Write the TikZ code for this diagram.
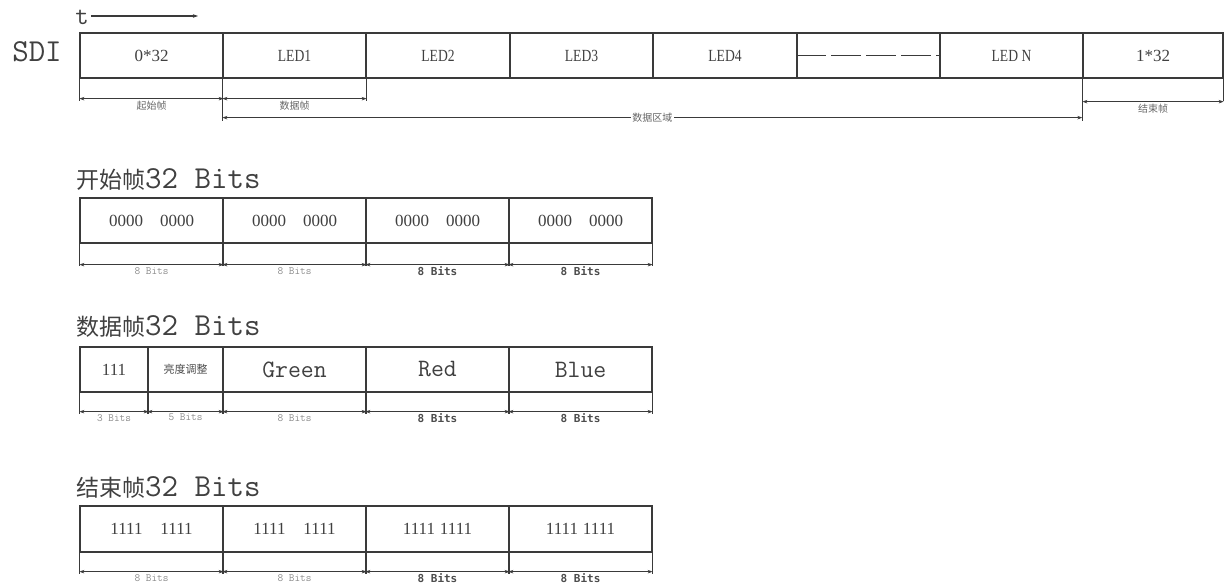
\documentclass[tikz,border=0pt]{standalone}
\usepackage{fontspec}
\setmainfont{Liberation Serif}
\newfontfamily\cjk{Noto Sans CJK SC}
\newfontfamily\narrowf[FakeStretch=0.8]{Liberation Serif}
\newfontfamily\monob{DejaVu Sans Mono}
\usetikzlibrary{arrows.meta,calc}
\definecolor{linec}{HTML}{3A3A3A}
\definecolor{txtc}{HTML}{404040}
\tikzset{
  cell/.style={draw=linec, line width=1.3pt, minimum height=45pt, inner sep=0pt, text=txtc,
               font=\fontsize{17}{17}\selectfont},
  ledtext/.style={font=\narrowf\fontsize{17}{17}\selectfont},
  colour/.style={font=\ttfamily\fontsize{25}{25}\selectfont},
  ext/.style={draw=linec, line width=1.3pt},
  dim/.style={draw=linec, line width=1.1pt, {Stealth[length=5pt,width=3.5pt]}-{Stealth[length=5pt,width=3.5pt]}},
  faint/.style={font=\ttfamily\fontsize{11}{11}\selectfont, text=black!45, inner sep=2pt},
  boldlab/.style={font=\monob\bfseries\fontsize{11}{11}\selectfont, text=black!70, inner sep=1.5pt},
  cjklab/.style={font=\cjk\fontsize{10}{10}\selectfont, text=black!60, inner sep=1.5pt},
  titletext/.style={anchor=west, inner sep=0pt, text=txtc},
}
\newcommand{\ttl}[1]{{\cjk\fontsize{23}{23}\selectfont #1}{\ttfamily\fontsize{32}{32}\selectfont 32 Bits}}
\begin{document}
\begin{tikzpicture}[x=1pt,y=-1pt]
\useasboundingbox (0,0) rectangle (1225,583);

% ---------- top row ----------
\node[inner sep=0pt, text=txtc, font=\ttfamily\fontsize{26}{26}\selectfont] (t) at (82,17) {t};
\coordinate (tend) at (198,16);
\draw[ext, line width=1.2pt, shorten <=2pt, -{Stealth[length=5pt,width=3.5pt]}] (t.east |- tend) -- (tend);
\node[inner sep=0pt, text=txtc, font=\ttfamily\fontsize{32}{32}\selectfont] (sdi) at (37,52) {SDI};

\node[cell, minimum width=143pt] (s1) at (151.5,55.5) {0*32};
\node[cell, ledtext, minimum width=143pt] (s2) at (294.5,55.5) {LED1};
\node[cell, ledtext, minimum width=144pt] (s3) at (438,55.5) {LED2};
\node[cell, ledtext, minimum width=143pt] (s4) at (581.5,55.5) {LED3};
\node[cell, ledtext, minimum width=144pt] (s5) at (725,55.5) {LED4};
\node[cell, minimum width=143pt] (s6) at (868.5,55.5) {};
\node[cell, ledtext, minimum width=143pt] (s7) at (1011.5,55.5) {LED N};
\node[cell, minimum width=140pt] (s9) at (1153,55.5) {1*32};
\draw[ext, dash pattern=on 30pt off 5pt] (s6.west) -- (s6.east);

\draw[ext] (s1.south west) -- ++(0,22);
\draw[ext] (s2.south west) -- ++(0,42);
\draw[ext] (s2.south east) -- ++(0,22);
\draw[ext] (s9.south west) -- ++(0,42);
\draw[ext] (s9.south east) -- ++(0,22);

\draw[dim] ($(s1.south west)+(0,20)$) -- ($(s1.south east)+(0,20)$) node[midway, below, cjklab] {起始帧};
\draw[dim] ($(s2.south west)+(0,20)$) -- ($(s2.south east)+(0,20)$) node[midway, below, cjklab] {数据帧};
\draw[dim] ($(s2.south west)+(0,39)$) -- ($(s9.south west)+(0,39)$) node[midway, fill=white, cjklab] {数据区域};
\draw[dim] ($(s9.south west)+(0,23)$) -- ($(s9.south east)+(0,23)$) node[midway, below, cjklab] {结束帧};

% ---------- start frame ----------
\node[titletext] (h2) at (76,179) {\ttl{开始帧}};
\node[cell, minimum width=143pt] (a1) at (151.5,220.5) {0000\hspace{17pt}0000};
\node[cell, minimum width=143pt] (a2) at (294.5,220.5) {0000\hspace{17pt}0000};
\node[cell, minimum width=143pt] (a3) at (437.5,220.5) {0000\hspace{17pt}0000};
\node[cell, minimum width=143pt] (a4) at (580.5,220.5) {0000\hspace{17pt}0000};
\foreach \n in {a1,a2,a3,a4} {
  \draw[ext] (\n.south west) -- ++(0,22);
  \draw[ext] (\n.south east) -- ++(0,22);
}
\draw[dim] ($(a1.south west)+(0,21)$) -- ($(a1.south east)+(0,21)$) node[midway, below, faint] {8 Bits};
\draw[dim] ($(a2.south west)+(0,21)$) -- ($(a2.south east)+(0,21)$) node[midway, below, faint] {8 Bits};
\draw[dim] ($(a3.south west)+(0,21)$) -- ($(a3.south east)+(0,21)$) node[midway, below, boldlab] {8 Bits};
\draw[dim] ($(a4.south west)+(0,21)$) -- ($(a4.south east)+(0,21)$) node[midway, below, boldlab] {8 Bits};

% ---------- data frame ----------
\node[titletext] (h3) at (76,326) {\ttl{数据帧}};
\node[cell, minimum width=68pt] (b1) at (114,369.5) {111};
\node[cell, minimum width=75pt, font=\cjk\fontsize{11}{11}\selectfont, text=black!70] (b2) at (185.5,369.5) {亮度调整};
\node[cell, colour, minimum width=143pt] (b3) at (294.5,369.5) {Green};
\node[cell, colour, minimum width=143pt] (b4) at (437.5,369.5) {Red};
\node[cell, colour, minimum width=143pt] (b5) at (580.5,369.5) {Blue};
\foreach \n in {b1,b2,b3,b4,b5} {
  \draw[ext] (\n.south west) -- ++(0,21);
  \draw[ext] (\n.south east) -- ++(0,21);
}
\draw[dim] ($(b1.south west)+(0,19)$) -- ($(b1.south east)+(0,19)$) node[midway, below, faint] {3 Bits};
\draw[dim] ($(b2.south west)+(0,19)$) -- ($(b2.south east)+(0,19)$) node[midway, below, faint] {5 Bits};
\draw[dim] ($(b3.south west)+(0,19)$) -- ($(b3.south east)+(0,19)$) node[midway, below, faint] {8 Bits};
\draw[dim] ($(b4.south west)+(0,19)$) -- ($(b4.south east)+(0,19)$) node[midway, below, boldlab] {8 Bits};
\draw[dim] ($(b5.south west)+(0,19)$) -- ($(b5.south east)+(0,19)$) node[midway, below, boldlab] {8 Bits};

% ---------- end frame ----------
\node[titletext] (h4) at (76,487) {\ttl{结束帧}};
\node[cell, minimum width=143pt, minimum height=46pt] (c1) at (151.5,529) {1111\hspace{18pt}1111};
\node[cell, minimum width=143pt, minimum height=46pt] (c2) at (294.5,529) {1111\hspace{18pt}1111};
\node[cell, minimum width=143pt, minimum height=46pt] (c3) at (437.5,529) {1111\hspace{5pt}1111};
\node[cell, minimum width=143pt, minimum height=46pt] (c4) at (580.5,529) {1111\hspace{5pt}1111};
\foreach \n in {c1,c2,c3,c4} {
  \draw[ext] (\n.south west) -- ++(0,21);
  \draw[ext] (\n.south east) -- ++(0,21);
}
\draw[dim] ($(c1.south west)+(0,19)$) -- ($(c1.south east)+(0,19)$) node[midway, below, faint] {8 Bits};
\draw[dim] ($(c2.south west)+(0,19)$) -- ($(c2.south east)+(0,19)$) node[midway, below, faint] {8 Bits};
\draw[dim] ($(c3.south west)+(0,19)$) -- ($(c3.south east)+(0,19)$) node[midway, below, boldlab] {8 Bits};
\draw[dim] ($(c4.south west)+(0,19)$) -- ($(c4.south east)+(0,19)$) node[midway, below, boldlab] {8 Bits};
\end{tikzpicture}
\end{document}
